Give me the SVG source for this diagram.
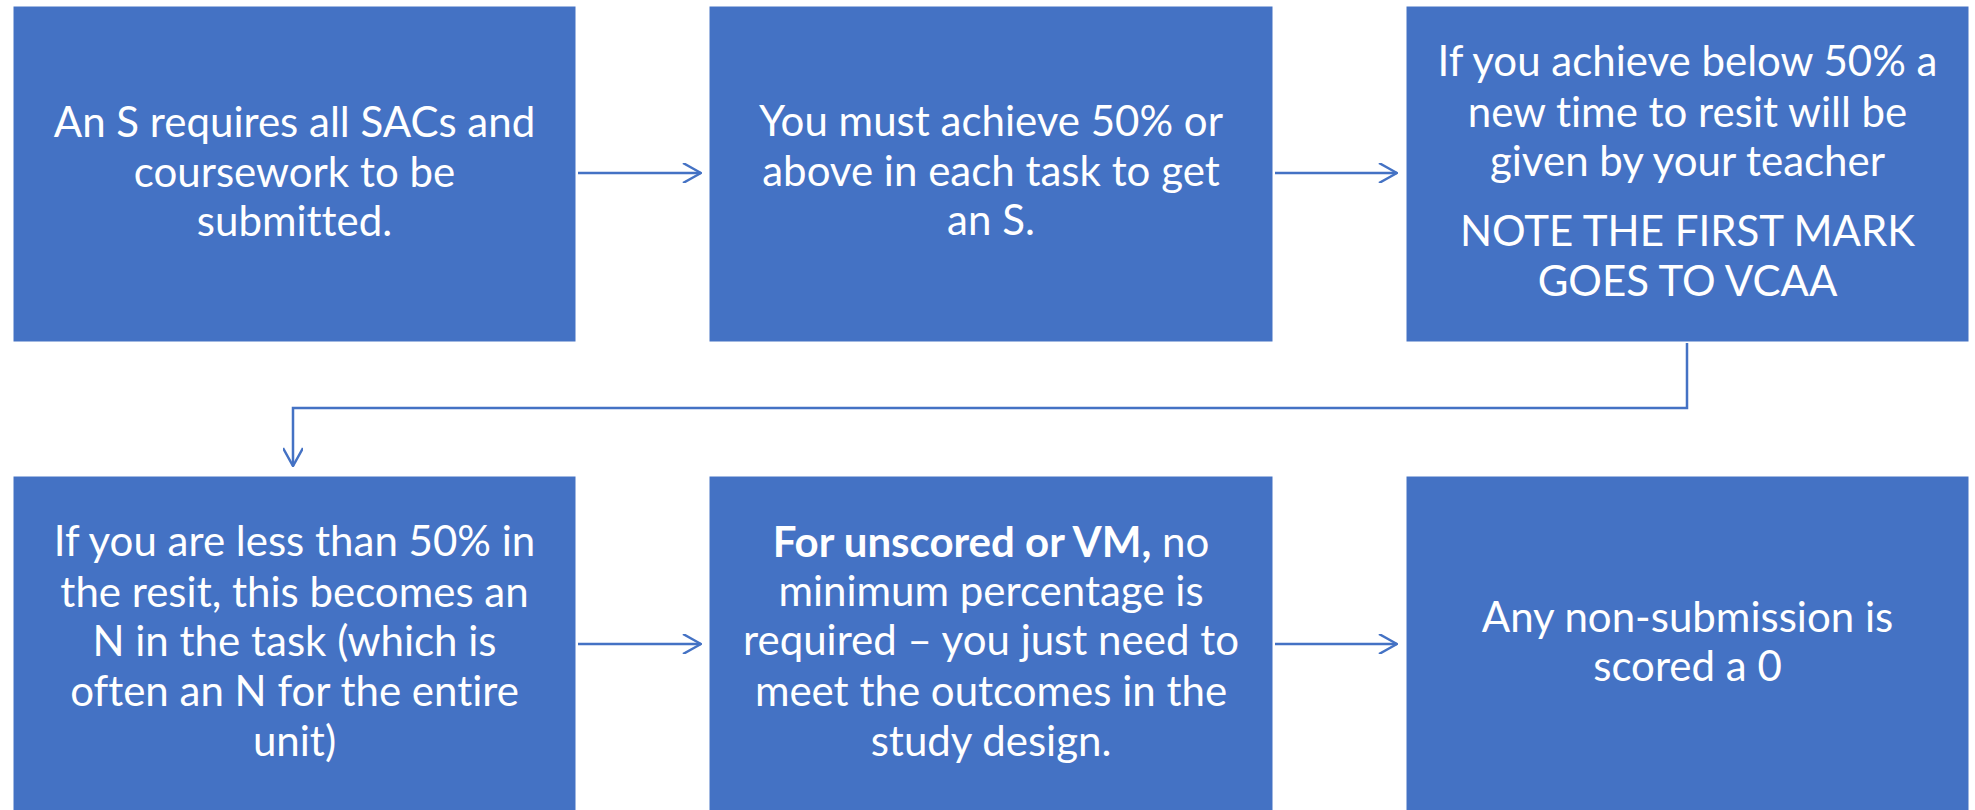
<svg xmlns="http://www.w3.org/2000/svg" width="1975" height="810" viewBox="0 0 1975 810">
<style>
.box{fill:#4472C4;stroke:#ffffff;stroke-width:1}
.t{font-family:Lato,"Open Sans","Liberation Sans",sans-serif;font-size:42px;fill:#ffffff;text-anchor:middle;font-variant-ligatures:none}
.b{font-weight:bold}
.c{fill:none;stroke:#4472C4;stroke-width:2.5}
</style>
<defs>
<marker id="arr" viewBox="0 0 20 20" refX="19" refY="10" markerWidth="20" markerHeight="20" markerUnits="userSpaceOnUse" orient="auto">
<path d="M1,0 L19,10 L1,20" fill="none" stroke="#4472C4" stroke-width="2.5"/>
</marker>
</defs>
<rect width="1975" height="810" fill="#ffffff"/>
<g id="connectors">
<path class="c" d="M578,173 H701" marker-end="url(#arr)"/>
<path class="c" d="M1275,173 H1397" marker-end="url(#arr)"/>
<path class="c" d="M1687,343 V408 H293 V466" marker-end="url(#arr)"/>
<path class="c" d="M578,644 H701" marker-end="url(#arr)"/>
<path class="c" d="M1275,644 H1397" marker-end="url(#arr)"/>
</g>
<g id="n1">
<rect class="box" x="13" y="6" width="563" height="336"/>
<text class="t" x="294.5"><tspan x="294.5" y="137">An S requires all SACs and</tspan><tspan x="294.5" y="187">coursework to be</tspan><tspan x="294.5" y="236">submitted.</tspan></text>
</g>
<g id="n2">
<rect class="box" x="709" y="6" width="564" height="336"/>
<text class="t" x="991"><tspan x="991" y="136">You must achieve 50% or</tspan><tspan x="991" y="186">above in each task to get</tspan><tspan x="991" y="235">an S.</tspan></text>
</g>
<g id="n3">
<rect class="box" x="1406" y="6" width="563" height="336"/>
<text class="t" x="1687.5"><tspan x="1687.5" y="76">If you achieve below 50% a</tspan><tspan x="1687.5" y="127">new time to resit will be</tspan><tspan x="1687.5" y="176">given by your teacher</tspan><tspan x="1687.5" y="246">NOTE THE FIRST MARK</tspan><tspan x="1687.5" y="296">GOES TO VCAA</tspan></text>
</g>
<g id="n4">
<rect class="box" x="13" y="476" width="563" height="340"/>
<text class="t" x="294.5"><tspan x="294.5" y="556">If you are less than 50% in</tspan><tspan x="294.5" y="607">the resit, this becomes an</tspan><tspan x="294.5" y="656">N in the task (which is</tspan><tspan x="294.5" y="706">often an N for the entire</tspan><tspan x="294.5" y="756">unit)</tspan></text>
</g>
<g id="n5">
<rect class="box" x="709" y="476" width="564" height="340"/>
<text class="t" x="991"><tspan x="991" y="557"><tspan class="b">For unscored or VM,</tspan> no</tspan><tspan x="991" y="606">minimum percentage is</tspan><tspan x="991" y="655">required – you just need to</tspan><tspan x="991" y="706">meet the outcomes in the</tspan><tspan x="991" y="756">study design.</tspan></text>
</g>
<g id="n6">
<rect class="box" x="1406" y="476" width="563" height="340"/>
<text class="t" x="1687.5"><tspan x="1687.5" y="632">Any non-submission is</tspan><tspan x="1687.5" y="681">scored a 0</tspan></text>
</g>
</svg>
